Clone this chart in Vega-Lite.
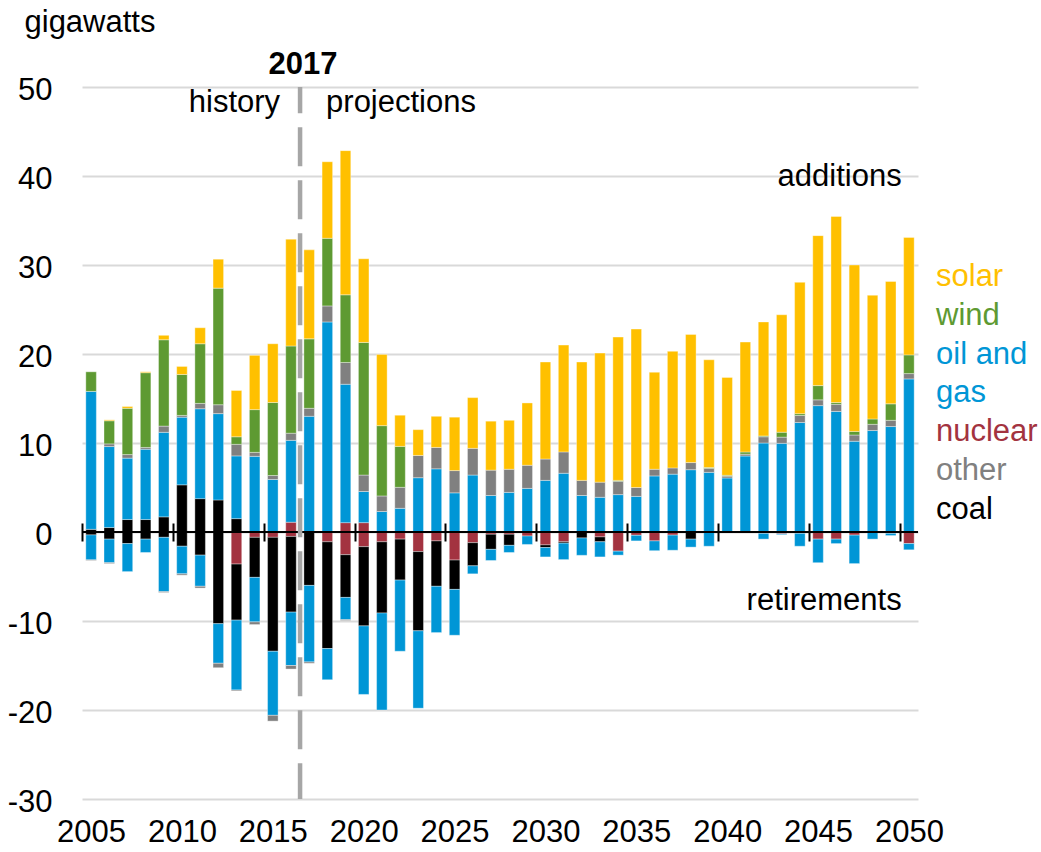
{
  "$schema": "https://vega.github.io/schema/vega-lite/v6.json",
  "width": 836,
  "height": 712,
  "autosize": "none",
  "padding": {"left": 82, "top": 87, "right": 123, "bottom": 53},
  "background": "white",
  "config": {
    "font": "Liberation Sans",
    "view": {"stroke": null},
    "style": {"guide-label": {"lineHeight": 38.3}}
  },
  "layer": [
    {
      "data": {"values": [
        {"year":2005,"source":"coal","gw":0.3},{"year":2005,"source":"oil and gas","gw":15.5},{"year":2005,"source":"wind","gw":2.2},
        {"year":2005,"source":"coal","gw":-0.33},{"year":2005,"source":"oil and gas","gw":-2.8},{"year":2005,"source":"other","gw":-0.07},
        {"year":2006,"source":"coal","gw":0.5},{"year":2006,"source":"oil and gas","gw":9.1},{"year":2006,"source":"other","gw":0.3},{"year":2006,"source":"wind","gw":2.6},{"year":2006,"source":"solar","gw":0.1},
        {"year":2006,"source":"coal","gw":-0.8},{"year":2006,"source":"oil and gas","gw":-2.65},{"year":2006,"source":"other","gw":-0.1},
        {"year":2007,"source":"coal","gw":1.4},{"year":2007,"source":"oil and gas","gw":6.9},{"year":2007,"source":"other","gw":0.4},{"year":2007,"source":"wind","gw":5.2},{"year":2007,"source":"solar","gw":0.2},
        {"year":2007,"source":"coal","gw":-1.3},{"year":2007,"source":"oil and gas","gw":-3.15},
        {"year":2008,"source":"coal","gw":1.4},{"year":2008,"source":"oil and gas","gw":7.9},{"year":2008,"source":"other","gw":0.2},{"year":2008,"source":"wind","gw":8.4},{"year":2008,"source":"solar","gw":0.1},
        {"year":2008,"source":"coal","gw":-0.8},{"year":2008,"source":"oil and gas","gw":-1.5},
        {"year":2009,"source":"coal","gw":1.7},{"year":2009,"source":"oil and gas","gw":9.5},{"year":2009,"source":"other","gw":0.7},{"year":2009,"source":"wind","gw":9.7},{"year":2009,"source":"solar","gw":0.5},
        {"year":2009,"source":"coal","gw":-0.6},{"year":2009,"source":"oil and gas","gw":-6.1},{"year":2009,"source":"other","gw":-0.1},
        {"year":2010,"source":"coal","gw":5.3},{"year":2010,"source":"oil and gas","gw":7.6},{"year":2010,"source":"other","gw":0.2},{"year":2010,"source":"wind","gw":4.6},{"year":2010,"source":"solar","gw":0.9},
        {"year":2010,"source":"coal","gw":-1.6},{"year":2010,"source":"oil and gas","gw":-3.1},{"year":2010,"source":"other","gw":-0.15},
        {"year":2011,"source":"coal","gw":3.75},{"year":2011,"source":"oil and gas","gw":10.1},{"year":2011,"source":"other","gw":0.6},{"year":2011,"source":"wind","gw":6.7},{"year":2011,"source":"solar","gw":1.8},
        {"year":2011,"source":"coal","gw":-2.6},{"year":2011,"source":"oil and gas","gw":-3.5},{"year":2011,"source":"other","gw":-0.2},
        {"year":2012,"source":"coal","gw":3.6},{"year":2012,"source":"oil and gas","gw":9.7},{"year":2012,"source":"other","gw":1.0},{"year":2012,"source":"wind","gw":13.1},{"year":2012,"source":"solar","gw":3.25},
        {"year":2012,"source":"coal","gw":-10.3},{"year":2012,"source":"oil and gas","gw":-4.45},{"year":2012,"source":"other","gw":-0.5},
        {"year":2013,"source":"coal","gw":1.5},{"year":2013,"source":"oil and gas","gw":7.05},{"year":2013,"source":"other","gw":1.3},{"year":2013,"source":"wind","gw":0.85},{"year":2013,"source":"solar","gw":5.2},
        {"year":2013,"source":"nuclear","gw":-3.6},{"year":2013,"source":"coal","gw":-6.3},{"year":2013,"source":"oil and gas","gw":-7.85},{"year":2013,"source":"other","gw":-0.1},
        {"year":2014,"source":"oil and gas","gw":8.5},{"year":2014,"source":"other","gw":0.45},{"year":2014,"source":"wind","gw":4.8},{"year":2014,"source":"solar","gw":6.1},
        {"year":2014,"source":"nuclear","gw":-0.6},{"year":2014,"source":"coal","gw":-4.5},{"year":2014,"source":"oil and gas","gw":-5.0},{"year":2014,"source":"other","gw":-0.3},
        {"year":2015,"source":"oil and gas","gw":5.9},{"year":2015,"source":"other","gw":0.45},{"year":2015,"source":"wind","gw":8.2},{"year":2015,"source":"solar","gw":6.6},
        {"year":2015,"source":"nuclear","gw":-0.6},{"year":2015,"source":"coal","gw":-12.8},{"year":2015,"source":"oil and gas","gw":-7.2},{"year":2015,"source":"other","gw":-0.65},
        {"year":2016,"source":"nuclear","gw":1.1},{"year":2016,"source":"oil and gas","gw":9.2},{"year":2016,"source":"other","gw":0.8},{"year":2016,"source":"wind","gw":9.8},{"year":2016,"source":"solar","gw":12.0},
        {"year":2016,"source":"nuclear","gw":-0.5},{"year":2016,"source":"coal","gw":-8.5},{"year":2016,"source":"oil and gas","gw":-6.0},{"year":2016,"source":"other","gw":-0.4},
        {"year":2017,"source":"oil and gas","gw":13.0},{"year":2017,"source":"other","gw":0.9},{"year":2017,"source":"wind","gw":7.8},{"year":2017,"source":"solar","gw":10.0},
        {"year":2017,"source":"coal","gw":-6.0},{"year":2017,"source":"oil and gas","gw":-8.6},{"year":2017,"source":"other","gw":-0.15},
        {"year":2018,"source":"oil and gas","gw":23.6},{"year":2018,"source":"other","gw":1.8},{"year":2018,"source":"wind","gw":7.6},{"year":2018,"source":"solar","gw":8.6},
        {"year":2018,"source":"nuclear","gw":-1.1},{"year":2018,"source":"coal","gw":-12.0},{"year":2018,"source":"oil and gas","gw":-3.5},
        {"year":2019,"source":"nuclear","gw":1.05},{"year":2019,"source":"oil and gas","gw":15.55},{"year":2019,"source":"other","gw":2.45},{"year":2019,"source":"wind","gw":7.6},{"year":2019,"source":"solar","gw":16.2},
        {"year":2019,"source":"nuclear","gw":-2.55},{"year":2019,"source":"coal","gw":-4.8},{"year":2019,"source":"oil and gas","gw":-2.5},{"year":2019,"source":"other","gw":-0.1},
        {"year":2020,"source":"nuclear","gw":1.05},{"year":2020,"source":"oil and gas","gw":3.5},{"year":2020,"source":"other","gw":1.85},{"year":2020,"source":"wind","gw":14.9},{"year":2020,"source":"solar","gw":9.4},
        {"year":2020,"source":"nuclear","gw":-1.65},{"year":2020,"source":"coal","gw":-8.9},{"year":2020,"source":"oil and gas","gw":-7.7},
        {"year":2021,"source":"oil and gas","gw":2.3},{"year":2021,"source":"other","gw":1.75},{"year":2021,"source":"wind","gw":7.9},{"year":2021,"source":"solar","gw":8.0},
        {"year":2021,"source":"nuclear","gw":-1.1},{"year":2021,"source":"coal","gw":-8.0},{"year":2021,"source":"oil and gas","gw":-10.9},
        {"year":2022,"source":"oil and gas","gw":2.66},{"year":2022,"source":"other","gw":2.36},{"year":2022,"source":"wind","gw":4.6},{"year":2022,"source":"solar","gw":3.5},
        {"year":2022,"source":"nuclear","gw":-0.8},{"year":2022,"source":"coal","gw":-4.6},{"year":2022,"source":"oil and gas","gw":-8.0},
        {"year":2023,"source":"oil and gas","gw":6.1},{"year":2023,"source":"other","gw":2.5},{"year":2023,"source":"solar","gw":2.9},
        {"year":2023,"source":"nuclear","gw":-2.2},{"year":2023,"source":"coal","gw":-8.9},{"year":2023,"source":"oil and gas","gw":-8.7},
        {"year":2024,"source":"oil and gas","gw":7.1},{"year":2024,"source":"other","gw":2.4},{"year":2024,"source":"solar","gw":3.5},
        {"year":2024,"source":"nuclear","gw":-1.0},{"year":2024,"source":"coal","gw":-5.1},{"year":2024,"source":"oil and gas","gw":-5.2},
        {"year":2025,"source":"oil and gas","gw":4.4},{"year":2025,"source":"other","gw":2.5},{"year":2025,"source":"solar","gw":6.0},
        {"year":2025,"source":"nuclear","gw":-3.15},{"year":2025,"source":"coal","gw":-3.3},{"year":2025,"source":"oil and gas","gw":-5.15},
        {"year":2026,"source":"oil and gas","gw":6.4},{"year":2026,"source":"other","gw":3.0},{"year":2026,"source":"solar","gw":5.7},
        {"year":2026,"source":"nuclear","gw":-1.2},{"year":2026,"source":"coal","gw":-2.6},{"year":2026,"source":"oil and gas","gw":-0.9},
        {"year":2027,"source":"oil and gas","gw":4.1},{"year":2027,"source":"other","gw":2.85},{"year":2027,"source":"solar","gw":5.5},
        {"year":2027,"source":"nuclear","gw":-0.25},{"year":2027,"source":"coal","gw":-1.7},{"year":2027,"source":"oil and gas","gw":-1.25},
        {"year":2028,"source":"oil and gas","gw":4.45},{"year":2028,"source":"other","gw":2.6},{"year":2028,"source":"solar","gw":5.5},
        {"year":2028,"source":"nuclear","gw":-0.25},{"year":2028,"source":"coal","gw":-1.25},{"year":2028,"source":"oil and gas","gw":-0.8},
        {"year":2029,"source":"oil and gas","gw":4.9},{"year":2029,"source":"other","gw":2.6},{"year":2029,"source":"solar","gw":7.0},
        {"year":2029,"source":"nuclear","gw":-0.45},{"year":2029,"source":"oil and gas","gw":-0.95},
        {"year":2030,"source":"oil and gas","gw":5.8},{"year":2030,"source":"other","gw":2.4},{"year":2030,"source":"solar","gw":10.9},
        {"year":2030,"source":"nuclear","gw":-1.45},{"year":2030,"source":"coal","gw":-0.3},{"year":2030,"source":"oil and gas","gw":-1.05},
        {"year":2031,"source":"oil and gas","gw":6.6},{"year":2031,"source":"other","gw":2.4},{"year":2031,"source":"solar","gw":12.0},
        {"year":2031,"source":"nuclear","gw":-1.1},{"year":2031,"source":"coal","gw":-0.15},{"year":2031,"source":"oil and gas","gw":-1.85},
        {"year":2032,"source":"oil and gas","gw":4.1},{"year":2032,"source":"other","gw":1.7},{"year":2032,"source":"solar","gw":13.3},
        {"year":2032,"source":"coal","gw":-0.67},{"year":2032,"source":"oil and gas","gw":-1.95},
        {"year":2033,"source":"oil and gas","gw":3.9},{"year":2033,"source":"other","gw":1.7},{"year":2033,"source":"solar","gw":14.5},
        {"year":2033,"source":"nuclear","gw":-0.55},{"year":2033,"source":"coal","gw":-0.55},{"year":2033,"source":"oil and gas","gw":-1.7},
        {"year":2034,"source":"oil and gas","gw":4.2},{"year":2034,"source":"other","gw":1.5},{"year":2034,"source":"wind","gw":0.1},{"year":2034,"source":"solar","gw":16.1},
        {"year":2034,"source":"nuclear","gw":-2.15},{"year":2034,"source":"oil and gas","gw":-0.45},
        {"year":2035,"source":"oil and gas","gw":4.0},{"year":2035,"source":"other","gw":1.0},{"year":2035,"source":"solar","gw":17.8},
        {"year":2035,"source":"nuclear","gw":-0.37},{"year":2035,"source":"oil and gas","gw":-0.63},
        {"year":2036,"source":"oil and gas","gw":6.3},{"year":2036,"source":"other","gw":0.75},{"year":2036,"source":"solar","gw":10.9},
        {"year":2036,"source":"nuclear","gw":-1.0},{"year":2036,"source":"oil and gas","gw":-1.1},
        {"year":2037,"source":"oil and gas","gw":6.5},{"year":2037,"source":"other","gw":0.7},{"year":2037,"source":"solar","gw":13.1},
        {"year":2037,"source":"nuclear","gw":-0.35},{"year":2037,"source":"oil and gas","gw":-1.7},
        {"year":2038,"source":"oil and gas","gw":7.0},{"year":2038,"source":"other","gw":0.8},{"year":2038,"source":"solar","gw":14.4},
        {"year":2038,"source":"coal","gw":-0.8},{"year":2038,"source":"oil and gas","gw":-0.9},
        {"year":2039,"source":"oil and gas","gw":6.7},{"year":2039,"source":"other","gw":0.45},{"year":2039,"source":"wind","gw":0.1},{"year":2039,"source":"solar","gw":12.1},
        {"year":2039,"source":"oil and gas","gw":-1.6},
        {"year":2040,"source":"oil and gas","gw":6.07},{"year":2040,"source":"other","gw":0.2},{"year":2040,"source":"wind","gw":0.1},{"year":2040,"source":"solar","gw":11.0},
        {"year":2041,"source":"oil and gas","gw":8.54},{"year":2041,"source":"other","gw":0.2},{"year":2041,"source":"wind","gw":0.25},{"year":2041,"source":"solar","gw":12.35},
        {"year":2042,"source":"oil and gas","gw":10.0},{"year":2042,"source":"other","gw":0.7},{"year":2042,"source":"wind","gw":0.1},{"year":2042,"source":"solar","gw":12.8},
        {"year":2042,"source":"nuclear","gw":-0.15},{"year":2042,"source":"oil and gas","gw":-0.65},
        {"year":2043,"source":"oil and gas","gw":9.96},{"year":2043,"source":"other","gw":0.7},{"year":2043,"source":"wind","gw":0.55},{"year":2043,"source":"solar","gw":13.2},
        {"year":2043,"source":"nuclear","gw":-0.2},{"year":2043,"source":"oil and gas","gw":-0.1},
        {"year":2044,"source":"oil and gas","gw":12.3},{"year":2044,"source":"other","gw":0.8},{"year":2044,"source":"wind","gw":0.2},{"year":2044,"source":"solar","gw":14.75},
        {"year":2044,"source":"nuclear","gw":-0.15},{"year":2044,"source":"oil and gas","gw":-1.45},
        {"year":2045,"source":"oil and gas","gw":14.2},{"year":2045,"source":"other","gw":0.65},{"year":2045,"source":"wind","gw":1.6},{"year":2045,"source":"solar","gw":16.85},
        {"year":2045,"source":"nuclear","gw":-0.8},{"year":2045,"source":"oil and gas","gw":-2.65},
        {"year":2046,"source":"oil and gas","gw":13.55},{"year":2046,"source":"other","gw":0.8},{"year":2046,"source":"wind","gw":0.2},{"year":2046,"source":"solar","gw":20.9},
        {"year":2046,"source":"nuclear","gw":-0.8},{"year":2046,"source":"oil and gas","gw":-0.5},
        {"year":2047,"source":"oil and gas","gw":10.2},{"year":2047,"source":"other","gw":0.7},{"year":2047,"source":"wind","gw":0.4},{"year":2047,"source":"solar","gw":18.7},
        {"year":2047,"source":"nuclear","gw":-0.35},{"year":2047,"source":"oil and gas","gw":-3.2},
        {"year":2048,"source":"oil and gas","gw":11.4},{"year":2048,"source":"other","gw":0.7},{"year":2048,"source":"wind","gw":0.6},{"year":2048,"source":"solar","gw":13.9},
        {"year":2048,"source":"oil and gas","gw":-0.8},
        {"year":2049,"source":"oil and gas","gw":11.85},{"year":2049,"source":"other","gw":0.7},{"year":2049,"source":"wind","gw":1.85},{"year":2049,"source":"solar","gw":13.75},
        {"year":2049,"source":"nuclear","gw":-0.15},{"year":2049,"source":"oil and gas","gw":-0.25},
        {"year":2050,"source":"oil and gas","gw":17.2},{"year":2050,"source":"other","gw":0.6},{"year":2050,"source":"wind","gw":2.1},{"year":2050,"source":"solar","gw":13.2},
        {"year":2050,"source":"nuclear","gw":-1.3},{"year":2050,"source":"oil and gas","gw":-0.7}
      ]},
      "transform": [
        {"calculate": "indexof(['nuclear','coal','oil and gas','other','wind','solar'], datum.source)", "as": "stackOrder"}
      ],
      "mark": {"type": "bar", "stroke": "#ffffff", "strokeWidth": 0.6, "strokeOpacity": 0.6},
      "encoding": {
        "x": {
          "field": "year", "type": "ordinal",
          "scale": {"paddingInner": 0.42, "paddingOuter": 0.21},
          "axis": {
            "title": null,
            "values": [2005, 2010, 2015, 2020, 2025, 2030, 2035, 2040, 2045, 2050],
            "orient": "bottom",
            "offset": -276,
            "zindex": 1,
            "domain": false,
            "ticks": true,
            "tickSize": 18,
            "tickWidth": 2,
            "tickColor": "#000000",
            "bandPosition": 0,
            "tickOffset": -3.82,
            "labelOffset": 3.82,
            "labelAngle": 0,
            "labelBaseline": "alphabetic",
            "labelPadding": 300,
            "labelFontSize": 31,
            "labelColor": "#000000",
            "labelFont": "Liberation Sans",
            "grid": false
          }
        },
        "y": {
          "field": "gw", "type": "quantitative", "stack": "zero",
          "scale": {"domain": [-30, 50], "nice": false, "zero": false},
          "axis": {
            "title": "gigawatts",
            "titleAngle": 0,
            "titleAlign": "left",
            "titleBaseline": "alphabetic",
            "titleX": -58,
            "titleY": -56,
            "titleFontSize": 31,
            "titleFontWeight": "normal",
            "titleColor": "#000000",
            "titleFont": "Liberation Sans",
            "values": [-30, -20, -10, 0, 10, 20, 30, 40, 50],
            "labelExpr": "datum.value + ''",
            "domain": false,
            "ticks": false,
            "tickSize": 0,
            "labelPadding": 30,
            "labelBaseline": "alphabetic",
            "labelOffset": 12,
            "labelFontSize": 31,
            "labelColor": "#000000",
            "labelFont": "Liberation Sans",
            "grid": true,
            "gridColor": "#d9d9d9",
            "gridWidth": 2
          }
        },
        "color": {
          "field": "source", "type": "nominal",
          "scale": {
            "domain": ["solar", "wind", "oil and gas", "nuclear", "other", "coal"],
            "range": ["#FFC000", "#5E9A32", "#0096D6", "#A33340", "#808080", "#000000"]
          },
          "legend": {
            "title": null,
            "orient": "none",
            "legendX": 823,
            "legendY": 174,
            "padding": 0,
            "symbolSize": 0,
            "symbolStrokeWidth": 0,
            "symbolOpacity": 0,
            "labelOffset": 0,
            "labelFontSize": 31,
            "labelFont": "Liberation Sans",
            "labelLimit": 300,
            "rowPadding": 7,
            "labelColor": {"expr": "scale('color', datum.value)"},
            "labelExpr": "datum.label == 'oil and gas' ? ['oil and', 'gas'] : datum.label"
          }
        },
        "order": {"field": "stackOrder", "type": "quantitative", "sort": "ascending"}
      }
    },
    {
      "data": {"values": [{}]},
      "mark": {"type": "rule", "color": "#000000", "strokeWidth": 2},
      "encoding": {"y": {"datum": 0}}
    },
    {
      "data": {"values": [{}]},
      "mark": {"type": "rule", "color": "#a6a6a6", "strokeWidth": 4.5, "strokeDash": [39, 14], "strokeDashOffset": 12.7},
      "encoding": {
        "x": {"datum": 2016, "type": "ordinal", "bandPosition": 1.36},
        "y": {"datum": 50},
        "y2": {"datum": -30}
      }
    },
    {
      "data": {"values": [{}]},
      "mark": {"type": "text", "text": "2017", "fontSize": 31, "fontWeight": "bold", "align": "center", "baseline": "alphabetic", "dx": 3, "color": "#000000"},
      "encoding": {
        "x": {"datum": 2016, "type": "ordinal", "bandPosition": 1.36},
        "y": {"datum": 51.45}
      }
    },
    {
      "data": {"values": [{}]},
      "mark": {"type": "text", "text": "history", "fontSize": 31, "align": "right", "baseline": "alphabetic", "dx": -20, "color": "#000000"},
      "encoding": {
        "x": {"datum": 2016, "type": "ordinal", "bandPosition": 1.36},
        "y": {"datum": 47.2}
      }
    },
    {
      "data": {"values": [{}]},
      "mark": {"type": "text", "text": "projections", "fontSize": 31, "align": "left", "baseline": "alphabetic", "dx": 26, "color": "#000000"},
      "encoding": {
        "x": {"datum": 2016, "type": "ordinal", "bandPosition": 1.36},
        "y": {"datum": 47.2}
      }
    },
    {
      "data": {"values": [{}]},
      "mark": {"type": "text", "text": "additions", "fontSize": 31, "align": "right", "baseline": "alphabetic", "dx": -2, "color": "#000000"},
      "encoding": {
        "x": {"datum": 2050, "type": "ordinal", "bandPosition": 0},
        "y": {"datum": 38.9}
      }
    },
    {
      "data": {"values": [{}]},
      "mark": {"type": "text", "text": "retirements", "fontSize": 31, "align": "right", "baseline": "alphabetic", "dx": -2, "color": "#000000"},
      "encoding": {
        "x": {"datum": 2050, "type": "ordinal", "bandPosition": 0},
        "y": {"datum": -8.8}
      }
    }
  ]
}
